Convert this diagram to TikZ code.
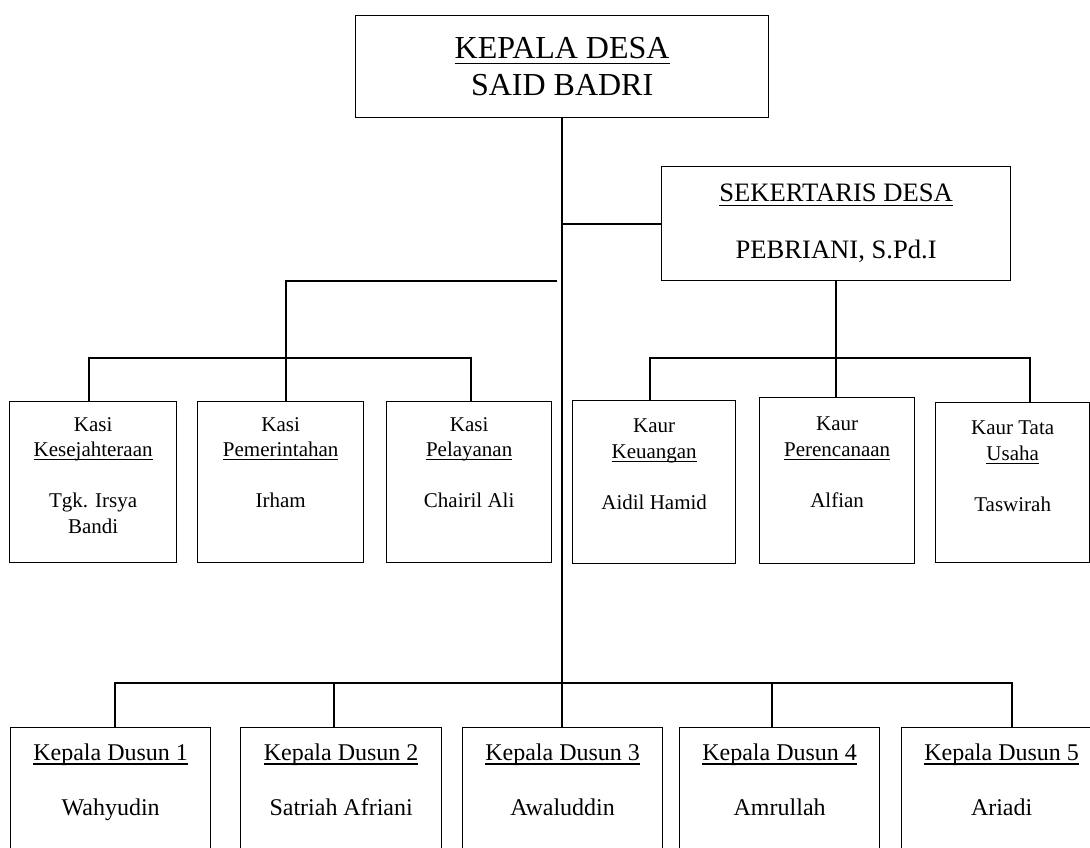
\documentclass[tikz,border=0pt]{standalone}
\usepackage{fontspec}
\setmainfont{Liberation Serif}
\usepackage{tikz}
\usetikzlibrary{calc}

\newcommand{\gbawah}[1]{\leavevmode\setbox0\hbox{#1}\rlap{\copy0}\rule[-0.17em]{\wd0}{1.2pt}}

\tikzset{
	kotak/.style={draw, line width=1.3pt, anchor=north west, inner sep=0pt},
	garis/.style={line width=2pt},
	teks/.style={anchor=north, align=center, inner sep=0pt},
	teksbesar/.style={teks, font=\fontsize{32}{37}\selectfont},
	tekssedang/.style={teks, font=\fontsize{26.6}{28.5}\selectfont},
	tekskecil/.style={teks, font=\fontsize{21}{25.5}\selectfont},
	teksdusun/.style={teks, font=\fontsize{24}{27.5}\selectfont},
}

\begin{document}
\begin{tikzpicture}[x=1pt, y=-1pt]
					\clip (0,0) rectangle (1090,848);
					
					\node[kotak, minimum width=413pt, minimum height=102pt] (kades) at (355,15) {};
					\node[kotak, minimum width=349pt, minimum height=114pt] (sekdes) at (661,166) {};
					
					\node[kotak, minimum width=167pt, minimum height=161pt] (kasi1) at (9,401) {};
					\node[kotak, minimum width=166pt, minimum height=161pt] (kasi2) at (197,401) {};
					\node[kotak, minimum width=165pt, minimum height=161pt] (kasi3) at (386,401) {};
					\node[kotak, minimum width=163pt, minimum height=163pt] (kaur1) at (572,400) {};
					\node[kotak, minimum width=155pt, minimum height=166pt] (kaur2) at (759,397) {};
					\node[kotak, minimum width=154pt, minimum height=160pt] (kaur3) at (935,402) {};
					
					\node[kotak, minimum width=200pt, minimum height=140pt] (dusun1) at (10,727) {};
					\node[kotak, minimum width=201pt, minimum height=140pt] (dusun2) at (240,727) {};
					\node[kotak, minimum width=200pt, minimum height=140pt] (dusun3) at (462,727) {};
					\node[kotak, minimum width=200pt, minimum height=140pt] (dusun4) at (679,727) {};
					\node[kotak, minimum width=200pt, minimum height=140pt] (dusun5) at (901,727) {};
					
					\node[teksbesar] (tkades) at ([yshift=-22pt]kades.north) {\gbawah{KEPALA DESA}\\SAID BADRI};
					\node[tekssedang] (tsekdes) at ([yshift=-18pt]sekdes.north) {\gbawah{SEKERTARIS DESA}\\[28.5pt]PEBRIANI, S.Pd.I};
					
					\node[tekskecil] (tkasi1) at ([yshift=-16pt]kasi1.north) {Kasi\\\gbawah{Kesejahteraan}\\[25.5pt]Tgk. Irsya\\Bandi};
					\node[tekskecil] (tkasi2) at ([yshift=-16pt]kasi2.north) {Kasi\\\gbawah{Pemerintahan}\\[25.5pt]Irham};
					\node[tekskecil] (tkasi3) at ([yshift=-16pt]kasi3.north) {Kasi\\\gbawah{Pelayanan}\\[25.5pt]Chairil Ali};
					\node[tekskecil] (tkaur1) at ([yshift=-19pt]kaur1.north) {Kaur\\\gbawah{Keuangan}\\[25.5pt]Aidil Hamid};
					\node[tekskecil] (tkaur2) at ([yshift=-20pt]kaur2.north) {Kaur\\\gbawah{Perencanaan}\\[25.5pt]Alfian};
					\node[tekskecil] (tkaur3) at ([yshift=-19pt]kaur3.north) {Kaur Tata\\\gbawah{Usaha}\\[25.5pt]Taswirah};
					
					\node[teksdusun] (tdusun1) at ([yshift=-16.6pt]dusun1.north) {\gbawah{Kepala Dusun 1}\\[27.5pt]Wahyudin};
					\node[teksdusun] (tdusun2) at ([yshift=-16.6pt]dusun2.north) {\gbawah{Kepala Dusun 2}\\[27.5pt]Satriah Afriani};
					\node[teksdusun] (tdusun3) at ([yshift=-16.6pt]dusun3.north) {\gbawah{Kepala Dusun 3}\\[27.5pt]Awaluddin};
					\node[teksdusun] (tdusun4) at ([yshift=-16.6pt]dusun4.north) {\gbawah{Kepala Dusun 4}\\[27.5pt]Amrullah};
					\node[teksdusun] (tdusun5) at ([yshift=-16.6pt]dusun5.north) {\gbawah{Kepala Dusun 5}\\[27.5pt]Ariadi};
					
					\coordinate (ujungkiri) at (557,281);
					\coordinate (busatas) at (0,358);
					\coordinate (busbawah) at (0,683);
					\coordinate (k1) at ([xshift=-4.5pt]kasi1.north);
					\coordinate (k2) at ([xshift=5pt]kasi2.north);
					\coordinate (k3) at ([xshift=2pt]kasi3.north);
					\coordinate (r1) at ([xshift=-4.5pt]kaur1.north);
					\coordinate (r3) at ([xshift=17pt]kaur3.north);
					\coordinate (d1) at ([xshift=4pt]dusun1.north);
					\coordinate (d2) at ([xshift=-7.5pt]dusun2.north);
					\coordinate (d4) at ([xshift=-8pt]dusun4.north);
					\coordinate (d5) at ([xshift=10pt]dusun5.north);
					
					\draw[garis] (kades.south) -- (kades.south |- dusun3.north);
					\draw[garis] (kades.south |- sekdes.west) -- (sekdes.west);
					\draw[garis] (ujungkiri) -| (k2);
					\draw[garis] (k1) |- (busatas -| k3) -- (k3);
					\draw[garis] (sekdes.south) -- (sekdes.south |- kaur2.north);
					\draw[garis] (r1) |- (busatas -| r3) -- (r3);
					\draw[garis] (d1) |- (busbawah -| d5) -- (d5);
					\draw[garis] (busbawah -| d2) -- (d2);
					\draw[garis] (busbawah -| d4) -- (d4);
				\end{tikzpicture}
\end{document}
